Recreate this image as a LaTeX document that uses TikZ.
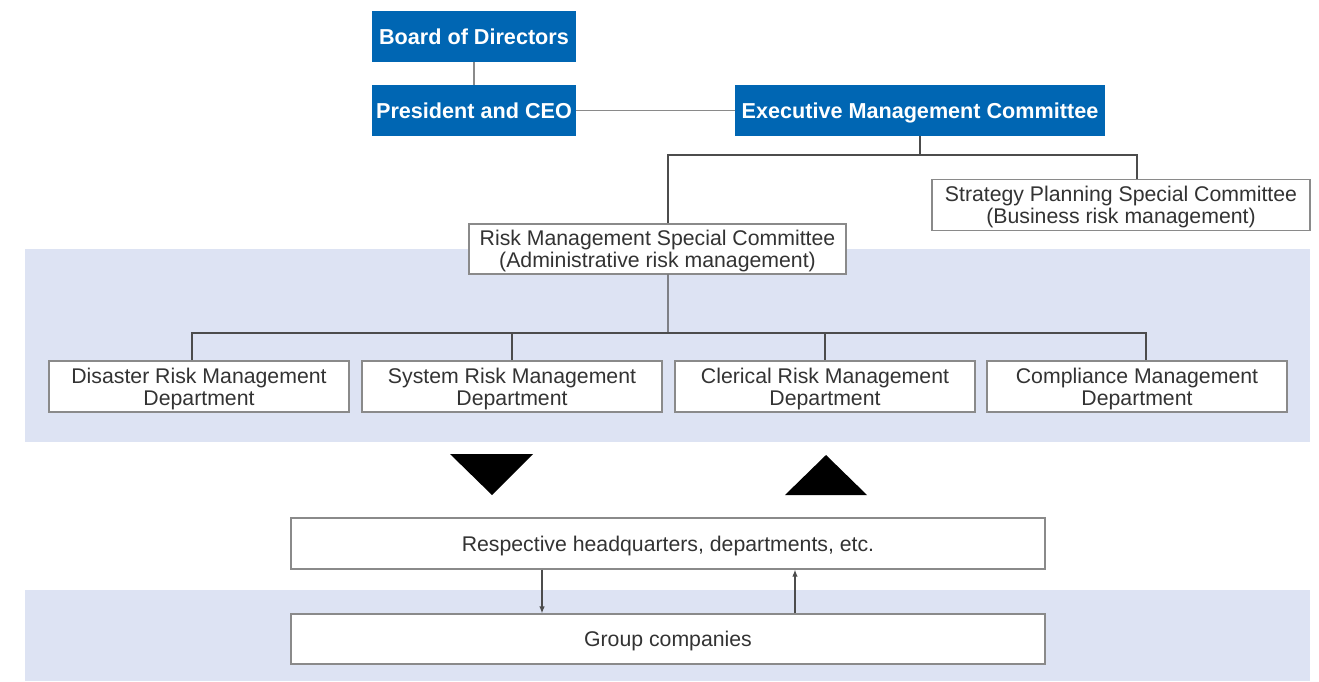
\documentclass[tikz,border=0pt]{standalone}
\usepackage{fontspec}
\setmainfont{Liberation Sans}
\usetikzlibrary{positioning,arrows.meta}
\definecolor{orgblue}{HTML}{0066B3}
\definecolor{bandblue}{HTML}{DDE3F3}
\definecolor{linegray}{HTML}{8A8A8A}
\definecolor{textgray}{HTML}{333333}

\begin{document}
\begin{tikzpicture}[x=0.02cm, y=-0.02cm,
  every node/.style={font=\fontsize{12.1}{12.6}\selectfont, align=center, inner sep=0pt, text depth=0pt},
  topbox/.style={fill=orgblue, text=white, font=\fontsize{12.3}{12.6}\selectfont\bfseries, minimum height=1.02cm},
  unitbox/.style={draw=linegray, line width=0.7pt, fill=white, text=textgray, minimum height=1.02cm},
  link/.style={draw=black!70, line width=0.7pt}]
\useasboundingbox (0,0) rectangle (1319,681);
% shaded bands
\fill[bandblue] (25,249) rectangle (1310,442);
\fill[bandblue] (25,590) rectangle (1310,681);

\node[topbox, minimum width=4.08cm] (board) at (474,36.5) {Board of Directors};
\node[topbox, minimum width=4.08cm] (ceo) at (474,110.5) {President and CEO};
\node[topbox, minimum width=7.4cm] (emc) at (920,110.5) {Executive Management Committee};
\node[unitbox, minimum width=7.56cm] (spc) at (1121,205) {Strategy Planning Special Committee\\(Business risk management)};
\node[unitbox, minimum width=7.54cm, minimum height=1cm] (rmc) at (657.5,249) {Risk Management Special Committee\\(Administrative risk management)};
\node[unitbox, minimum width=6cm] (drm) at (199,386.5) {Disaster Risk Management\\Department};
\node[unitbox, minimum width=6cm] (srm) at (512,386.5) {System Risk Management\\Department};
\node[unitbox, minimum width=6cm] (crm) at (825,386.5) {Clerical Risk Management\\Department};
\node[unitbox, minimum width=6cm] (cmd) at (1137,386.5) {Compliance Management\\Department};
\node[unitbox, minimum width=15.08cm] (hq) at (668,543.5) {Respective headquarters, departments, etc.};
\node[unitbox, minimum width=15.08cm, minimum height=1cm] (grp) at (668,639) {Group companies};

\coordinate (split) at (920,155);
\coordinate (bus) at (668,333);

\draw[linegray, line width=1.1pt] (board) -- (ceo);
\draw[linegray, line width=1.1pt] (ceo) -- (emc);
\draw[link] (emc.south) -- (split);
\draw[link] (split) -| ([xshift=0.21cm]rmc.north);
\draw[link] (split) -| ([xshift=0.32cm]spc.north);
\draw[link] ([xshift=0.21cm]rmc.south) -- (bus);
\draw[link] (bus) -| ([xshift=-0.14cm]drm.north);
\draw[link] (bus) -| (srm.north);
\draw[link] (bus) -| (crm.north);
\draw[link] (bus) -| ([xshift=0.18cm]cmd.north);

% big triangles
\fill (450,454) -- (533,454) -- (492,495) -- cycle;
\fill (785,495) -- (867,495) -- (826,455) -- cycle;

\draw[link, -{Latex[length=1.4mm,width=1.1mm]}] ([xshift=-2.52cm]hq.south) -- ([xshift=-2.52cm]grp.north);
\draw[link, -{Latex[length=1.4mm,width=1.1mm]}] ([xshift=2.54cm]grp.north) -- ([xshift=2.54cm]hq.south);
\end{tikzpicture}
\end{document}
